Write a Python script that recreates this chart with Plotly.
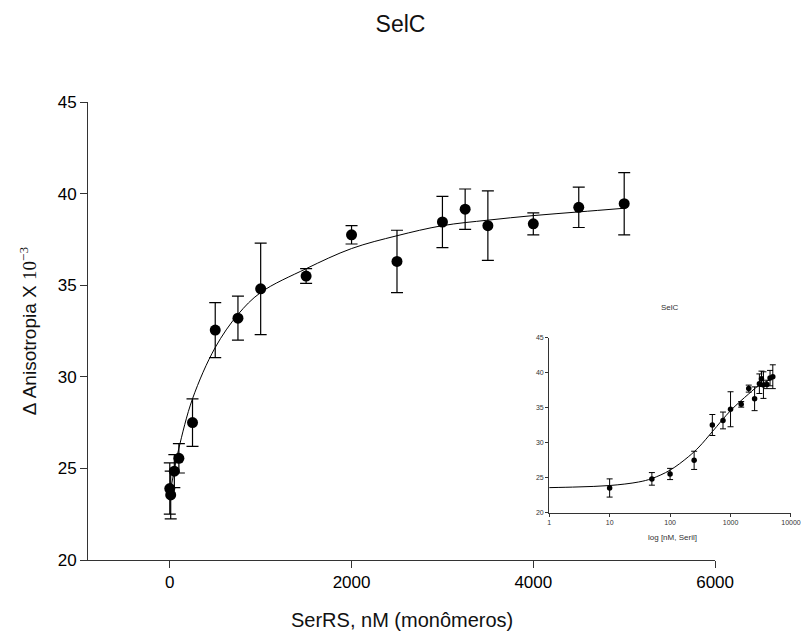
import plotly.graph_objects as go

# Data
conc = [0, 10, 50, 100, 250, 500, 750, 1000, 1500, 2000, 2500, 3000, 3250, 3500, 4000, 4500, 5000]
aniso = [23.9, 23.55, 24.85, 25.55, 27.5, 32.55, 33.2, 34.8, 35.5, 37.75, 36.3, 38.45, 39.15, 38.25, 38.35, 39.25, 39.45]
aniso_err = [1.4, 1.3, 0.9, 0.8, 1.3, 1.5, 1.2, 2.5, 0.4, 0.5, 1.7, 1.4, 1.1, 1.9, 0.6, 1.1, 1.7]

# Fitted curve
fit_x = [0, 50, 100, 250, 500, 750, 1000, 1500, 2000, 2500, 3000, 3500, 4000, 4500, 5000]
fit_y = [23.6, 24.9, 26.1, 28.8, 31.6, 33.4, 34.6, 35.9, 37.0, 37.7, 38.25, 38.55, 38.8, 39.0, 39.2]

# Inset (log scale) curve
fit_log_x = [1, 3, 10, 30, 50, 100, 200, 300, 500, 1000, 2000, 3000, 5000]
fit_log_y = [23.6, 23.7, 23.9, 24.4, 24.9, 26.1, 28.0, 29.4, 31.6, 34.6, 37.0, 38.25, 39.2]

main_yticks = [20, 25, 30, 35, 40, 45]
main_xticks = [0, 2000, 4000, 6000]
inset_xticks = [1, 10, 100, 1000, 10000]
inset_xticklabels = ["1", "10", "100", "1000", "10000"]

FONT = "Liberation Sans, Arial, sans-serif"

inset_x = [c for c in conc if c > 0]
inset_y = [a for c, a in zip(conc, aniso) if c > 0]
inset_e = [e for c, e in zip(conc, aniso_err) if c > 0]

fig = go.Figure()

fig.add_trace(go.Scatter(x=fit_x, y=fit_y, mode="lines", line=dict(color="black", width=1, shape="spline"),
                         xaxis="x", yaxis="y", hoverinfo="skip"))
fig.add_trace(go.Scatter(x=conc, y=aniso, mode="markers",
                         marker=dict(color="black", size=11, symbol="circle"),
                         error_y=dict(type="data", array=aniso_err, color="black", thickness=1.2, width=6),
                         xaxis="x", yaxis="y"))

fig.add_trace(go.Scatter(x=fit_log_x, y=fit_log_y, mode="lines", line=dict(color="black", width=1, shape="spline"),
                         xaxis="x2", yaxis="y2", hoverinfo="skip"))
fig.add_trace(go.Scatter(x=inset_x, y=inset_y, mode="markers",
                         marker=dict(color="black", size=5.5, symbol="circle"),
                         error_y=dict(type="data", array=inset_e, color="black", thickness=1, width=3),
                         xaxis="x2", yaxis="y2"))

axis_common = dict(showline=True, linecolor="#333333", linewidth=1, showgrid=False, zeroline=False,
                   ticks="outside", tickcolor="#333333", mirror=False, automargin=False)

fig.update_layout(
    width=801, height=635,
    margin=dict(l=88, r=10, t=102, b=75),
    paper_bgcolor="white", plot_bgcolor="white",
    showlegend=False,
    font=dict(family=FONT, color="black"),
    title=dict(text="SelC", x=0.5, xanchor="center", y=1 - 24 / 635, yanchor="middle",
               font=dict(size=23, family=FONT, color="#111111"), automargin=False),
    xaxis=dict(domain=[0, 0.892], range=[-900, 6000], tickvals=main_xticks, ticklen=7,
               tickfont=dict(size=17, family=FONT), anchor="y", **axis_common),
    yaxis=dict(domain=[0, 1], range=[20, 45], tickvals=main_yticks, ticklen=7,
               tickfont=dict(size=17, family=FONT), anchor="x", **axis_common),
    xaxis2=dict(domain=[0.656, 1.0], type="log", range=[0, 4], tickvals=inset_xticks,
                ticktext=inset_xticklabels, ticklen=3, tickfont=dict(size=7, family=FONT, color="#333333"),
                anchor="y2", **axis_common),
    yaxis2=dict(domain=[0.103, 0.485], range=[20, 45], tickvals=main_yticks, ticklen=3,
                tickfont=dict(size=7, family=FONT, color="#333333"), anchor="x2", **axis_common),
    annotations=[
        dict(text="SerRS, nM (monômeros)", xref="paper", yref="paper", x=0.446, y=-0.131,
             xanchor="center", yanchor="middle", showarrow=False, font=dict(size=20, family=FONT, color="#111111")),
        dict(text="Δ Anisotropia X <span style='font-family:Liberation Serif, Times New Roman, serif'>10<sup>−3</sup></span>",
             xref="paper", yref="paper", x=-0.085, y=0.5, textangle=-90,
             xanchor="center", yanchor="middle", showarrow=False, font=dict(size=19, family=FONT, color="#111111")),
        dict(text="SelC", xref="paper", yref="paper", x=0.828, y=0.552, xanchor="center", yanchor="middle",
             showarrow=False, font=dict(size=8, family=FONT, color="#333333")),
        dict(text="log [nM, Seril]", xref="paper", yref="paper", x=0.832, y=0.050, xanchor="center",
             yanchor="middle", showarrow=False, font=dict(size=8, family=FONT, color="#333333")),
    ],
)

fig.write_html("out.html")
